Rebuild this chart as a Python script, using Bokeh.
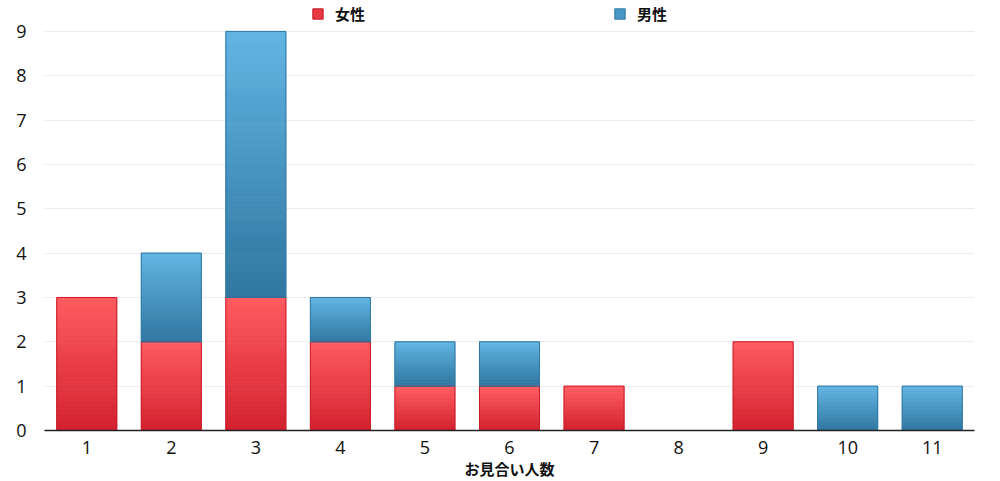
from bokeh.plotting import figure
from bokeh.models import ColumnDataSource, Legend, LegendItem, FixedTicker
from bokeh.embed import file_html
from bokeh.resources import INLINE

categories = ["1", "2", "3", "4", "5", "6", "7", "8", "9", "10", "11"]
female = [3, 2, 3, 2, 1, 1, 1, 0, 2, 0, 0]
male = [0, 2, 6, 1, 1, 1, 0, 0, 0, 1, 1]
series_names = ["女性", "男性"]
y_ticks = [0, 1, 2, 3, 4, 5, 6, 7, 8, 9]

RED_TOP, RED_BOT = (255, 92, 96), (210, 32, 46)
BLUE_TOP, BLUE_BOT = (98, 180, 226), (46, 118, 160)

# frame extends above the top tick to leave room for the legend
FRAME_TOP_PAD = 31 / 400 * 9


def lerp(c1, c2, t):
    return "#%02x%02x%02x" % tuple(int(round(a + (b - a) * t)) for a, b in zip(c1, c2))


def gradient_slices(bottoms, heights, top_c, bot_c):
    xs, b, t, cols = [], [], [], []
    for cat, b0, h in zip(categories, bottoms, heights):
        if h <= 0:
            continue
        n = int(h * 22)
        for i in range(n):
            xs.append(cat)
            b.append(b0 + h * i / n)
            t.append(b0 + h * (i + 1) / n)
            cols.append(lerp(bot_c, top_c, (i + 0.5) / n))
    return ColumnDataSource(dict(x=xs, bottom=b, top=t, color=cols))


p = figure(x_range=categories, y_range=(0, y_ticks[-1] + FRAME_TOP_PAD), width=1000, height=481,
           output_backend="svg", toolbar_location=None,
           min_border_left=44, min_border_right=26, min_border_top=0, min_border_bottom=50)

W = 0.71
fem_src = gradient_slices([0] * len(categories), female, RED_TOP, RED_BOT)
p.vbar(x="x", bottom="bottom", top="top", width=W, source=fem_src,
       fill_color="color", line_color="color", line_width=0.8)
male_src = gradient_slices(female, male, BLUE_TOP, BLUE_BOT)
p.vbar(x="x", bottom="bottom", top="top", width=W, source=male_src,
       fill_color="color", line_color="color", line_width=0.8)

# outlines
fem_out = ColumnDataSource(dict(x=[c for c, v in zip(categories, female) if v > 0],
                                top=[v for v in female if v > 0]))
p.vbar(x="x", top="top", bottom=0, width=W, source=fem_out,
       fill_alpha=0, line_color="#c81e2a", line_width=1)
mb = [(c, f, f + m) for c, f, m in zip(categories, female, male) if m > 0]
male_out = ColumnDataSource(dict(x=[a for a, _, _ in mb], bottom=[b for _, b, _ in mb],
                                 top=[t for _, _, t in mb]))
p.vbar(x="x", top="top", bottom="bottom", width=W, source=male_out,
       fill_alpha=0, line_color="#2f78a4", line_width=1)

# legend swatches (renderers placed outside the visible range, used only for legend)
r_f = p.vbar(x=[categories[0]], top=[-10], bottom=[-11], width=W,
             fill_color="#e53a42", line_color="#c81e2a")
r_m = p.vbar(x=[categories[0]], top=[-10], bottom=[-11], width=W,
             fill_color="#4897c6", line_color="#2f78a4")

for r, name, xpos in [(r_f, series_names[0], 267), (r_m, series_names[1], 569)]:
    lg = Legend(items=[LegendItem(label=name, renderers=[r])],
                location=(xpos, 406), orientation="horizontal",
                border_line_alpha=0, background_fill_alpha=0,
                padding=0, margin=0, glyph_width=13, glyph_height=13,
                label_standoff=11, label_text_font="Noto Sans CJK JP",
                label_text_font_size="15px", label_text_font_style="bold",
                label_text_color="#111111", label_height=13)
    p.add_layout(lg, "center")

p.yaxis.ticker = FixedTicker(ticks=y_ticks)
p.xgrid.grid_line_color = None
p.ygrid.grid_line_color = "#ececec"
p.outline_line_color = None
p.yaxis.axis_line_color = None
p.yaxis.major_tick_line_color = None
p.yaxis.minor_tick_line_color = None
p.xaxis.major_tick_line_color = None
p.xaxis.axis_line_color = "#222222"
p.xaxis.axis_line_width = 1.5
for ax in (p.xaxis, p.yaxis):
    ax.major_label_text_font = "Open Sans"
    ax.major_label_text_font_size = "18px"
    ax.major_label_text_color = "#111111"
p.yaxis.major_label_standoff = 12
p.xaxis.major_label_standoff = 4
p.xaxis.axis_label = "お見合い人数"
p.xaxis.axis_label_text_font = "Noto Sans CJK JP"
p.xaxis.axis_label_text_font_size = "15px"
p.xaxis.axis_label_text_font_style = "bold"
p.xaxis.axis_label_text_color = "#111111"
p.xaxis.axis_label_standoff = 1
p.x_range.range_padding = 0

open("out.html", "w").write(file_html(p, INLINE))
